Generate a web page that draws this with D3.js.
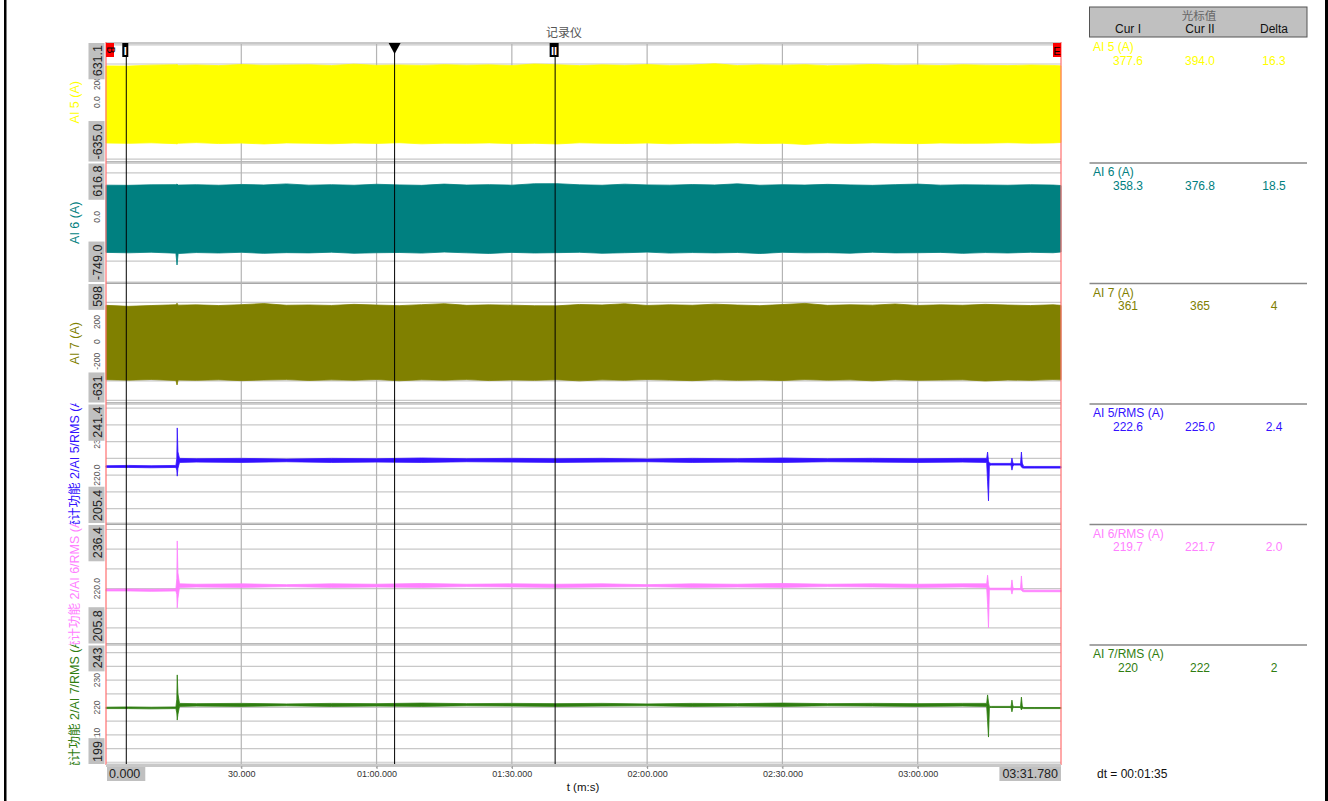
<!DOCTYPE html>
<html><head><meta charset="utf-8">
<script src="https://cdn.jsdelivr.net/npm/d3@7"></script>
<style>
body{margin:0;background:#fff;}
svg{display:block;font-family:"Liberation Sans",Arial,"Noto Sans CJK SC",sans-serif;}
</style></head><body><svg id="c" width="1328" height="801"></svg>
<script>
// ---------------- DATA ----------------
const chartTitle = "记录仪";
const timeDomain = [0, 211.78];
const xTickSeconds = [30, 60, 90, 120, 150, 180];
const xTickLabels = ["30.000", "01:00.000", "01:30.000", "02:00.000", "02:30.000", "03:00.000"];
const xStartLabel = "0.000";
const xEndLabel = "03:31.780";
const xAxisTitle = "t (m:s)";

const channelNames = ["AI 5 (A)", "AI 6 (A)", "AI 7 (A)",
  "统计功能 2/AI 5/RMS (A)", "统计功能 2/AI 6/RMS (A)", "统计功能 2/AI 7/RMS (A)"];
const tableNames = ["AI 5 (A)", "AI 6 (A)", "AI 7 (A)", "AI 5/RMS (A)", "AI 6/RMS (A)", "AI 7/RMS (A)"];
const channelColors = ["#ffff00", "#008080", "#808000", "#3311ff", "#ff80ff", "#2f7d10"];

const axisMax = [631.1, 616.8, 598, 241.4, 236.4, 243];
const axisMin = [-635.0, -749.0, -631, 205.4, 205.8, 199];
const axisMaxText = ["631.1", "616.8", "598", "241.4", "236.4", "243"];
const axisMinText = ["-635.0", "-749.0", "-631", "205.4", "205.8", "199"];
const axisTickValues = [[0, 200], [0], [-200, 0, 200], [220, 230], [220], [210, 220, 230]];
const axisTickText = [["0.0", "200"], ["0.0"], ["-200", "0", "200"], ["220.0", "230"], ["220.0"], ["210", "220", "230"]];
const yGridStep = [200, 250, 200, 5, 5, 5];

const tableHeader = "光标值";
const tableCols = ["Cur I", "Cur II", "Delta"];
const curIValues = ["377.6", "358.3", "361", "222.6", "219.7", "220"];
const curIIValues = ["394.0", "376.8", "365", "225.0", "221.7", "222"];
const deltaValues = ["16.3", "18.5", "4", "2.4", "2.0", "2"];
const dtText = "dt = 00:01:35";

const cursorTimes = [4.5, 99.6];   // cursor I, cursor II
const cursorLabels = ["I", "II"];
const markerTime = 64.0;            // triangle marker

// raw signals: envelope (max / min per time slot)
const rawTimes = [0, 5, 10, 15.5, 15.75, 16, 20, 25, 30, 35, 40, 45, 50, 55, 60, 65, 70, 75, 80, 85, 90, 95,
  100, 105, 110, 115, 120, 125, 130, 135, 140, 145, 150, 155, 160, 165, 170, 175, 180, 185, 190, 195,
  200, 205, 210, 211.78];
const ai5Hi = [380, 378, 388, 392, 395, 386, 390, 383, 395, 386, 389, 392, 384, 398, 386, 390, 385, 393, 387, 391, 384, 400,
  392, 383, 391, 386, 394, 385, 389, 403, 384, 391, 387, 393, 382, 388, 395, 386, 390, 384, 392, 387, 383, 389, 385, 381];
const ai5Lo = [-430, -434, -428, -437, -440, -433, -426, -436, -431, -440, -429, -433, -438, -430, -435, -427, -439, -432, -434, -429, -437, -433,
  -440, -428, -433, -436, -430, -438, -432, -434, -429, -436, -433, -445, -431, -435, -429, -433, -437, -430, -434, -432, -427, -433, -429, -425];
const ai6Hi = [360, 358, 364, 366, 372, 361, 365, 359, 368, 362, 374, 360, 365, 359, 370, 363, 358, 372, 361, 366, 360, 376,
  377, 364, 359, 371, 363, 360, 367, 362, 375, 359, 365, 361, 369, 363, 358, 366, 372, 360, 364, 362, 359, 365, 361, 356];
const ai6Lo = [-402, -407, -400, -411, -545, -415, -404, -409, -401, -413, -405, -408, -400, -412, -406, -403, -410, -398, -407, -414, -402, -409,
  -405, -401, -412, -406, -399, -410, -404, -408, -403, -415, -401, -407, -405, -411, -400, -408, -406, -402, -413, -404, -409, -401, -406, -398];
const ai7Hi = [370, 360, 368, 376, 392, 372, 375, 368, 377, 388, 371, 374, 369, 380, 373, 367, 377, 387, 370, 375, 372, 366,
  365, 379, 374, 386, 369, 376, 371, 382, 373, 367, 378, 390, 370, 376, 372, 384, 369, 375, 371, 380, 373, 368, 376, 370];
const ai7Lo = [-388, -393, -386, -396, -442, -392, -395, -389, -398, -391, -387, -396, -390, -394, -386, -399, -389, -393, -387, -397, -391, -395,
  -388, -400, -390, -394, -386, -392, -398, -389, -395, -391, -397, -387, -393, -390, -399, -388, -395, -392, -389, -401, -391, -395, -387, -390];

// RMS signals: envelope (max / min per time slot)
const rmsTimes = [0, 5, 10, 15.5, 15.7, 15.8, 15.95, 16.3, 20, 30, 40, 50, 60, 70, 80, 90, 100, 110, 120, 130, 140, 150,
  160, 170, 180, 190, 195.3, 195.5, 195.7, 195.9, 196.3, 200.7, 200.9, 201.1, 201.3, 201.5, 202.8, 203.0, 203.2, 203.5, 206, 211.78];
const rms5Hi = [222.8, 222.9, 222.8, 222.9, 225.0, 234.1, 227.0, 225.0, 224.9, 225.0, 224.8, 225.0, 224.9, 225.1, 224.9, 225.0, 224.9, 225.0, 224.8, 225.0, 224.9, 225.1,
  224.9, 225.0, 224.9, 225.0, 225.0, 226.9, 224.2, 223.6, 223.5, 223.5, 225.1, 223.7, 223.5, 223.4, 223.4, 226.9, 223.6, 222.6, 222.6, 222.6];
const rms5Lo = [222.3, 222.3, 222.2, 222.3, 221.5, 219.7, 222.0, 223.8, 223.9, 223.8, 224.0, 223.8, 223.9, 223.8, 224.0, 223.9, 223.8, 223.9, 224.0, 223.8, 223.9, 223.8,
  224.0, 223.9, 223.8, 223.9, 223.8, 218.0, 212.3, 222.9, 223.0, 223.0, 221.5, 222.6, 223.0, 223.0, 223.0, 222.4, 222.2, 222.1, 222.1, 222.1];
const rms6Hi = [219.8, 219.9, 219.8, 219.9, 222.5, 232.1, 224.0, 221.2, 221.1, 221.2, 221.0, 221.2, 221.1, 221.3, 221.1, 221.2, 221.1, 221.2, 221.0, 221.2, 221.1, 221.3,
  221.1, 221.2, 221.1, 221.2, 221.2, 223.4, 221.0, 220.1, 220.1, 220.1, 222.2, 220.3, 220.1, 220.0, 220.0, 223.2, 220.2, 219.6, 219.6, 219.6];
const rms6Lo = [219.4, 219.4, 219.3, 219.4, 218.5, 215.1, 217.5, 220.3, 220.4, 220.3, 220.5, 220.3, 220.4, 220.3, 220.5, 220.4, 220.3, 220.4, 220.5, 220.3, 220.4, 220.3,
  220.5, 220.4, 220.3, 220.4, 220.3, 216.0, 210.0, 219.7, 219.7, 219.7, 218.6, 219.6, 219.7, 219.7, 219.7, 219.6, 219.3, 219.2, 219.2, 219.2];
const rms7Hi = [220.1, 220.2, 220.1, 220.2, 223.0, 231.9, 225.0, 221.5, 221.4, 221.5, 221.3, 221.5, 221.4, 221.6, 221.4, 221.5, 221.4, 221.5, 221.3, 221.5, 221.4, 221.6,
  221.4, 221.5, 221.4, 221.5, 221.5, 224.6, 222.0, 220.4, 220.4, 220.4, 222.7, 220.6, 220.4, 220.3, 220.3, 223.8, 220.5, 220.0, 220.0, 220.0];
const rms7Lo = [219.6, 219.6, 219.5, 219.6, 218.0, 215.4, 217.5, 220.4, 220.5, 220.4, 220.6, 220.4, 220.5, 220.4, 220.6, 220.5, 220.4, 220.5, 220.6, 220.4, 220.5, 220.4,
  220.6, 220.5, 220.4, 220.5, 220.4, 215.0, 209.2, 220.0, 220.0, 220.0, 218.4, 219.9, 220.0, 220.0, 220.0, 219.1, 219.7, 219.6, 219.6, 219.6];

// ---------------- LAYOUT ----------------
const svg = d3.select("#c");
const plotLeft = 106, plotRight = 1061;
const plotTop = 42, panelH = 120.5, nPanels = 6;
const plotBottom = plotTop + panelH * nPanels;
const panelTop = i => plotTop + i * panelH;

const x = d3.scaleLinear().domain(timeDomain).range([plotLeft, plotRight]);
const yScales = axisMax.map((mx, i) => d3.scaleLinear().domain([axisMin[i], mx])
  .range([panelTop(i) + panelH, panelTop(i)]));

const series = [
  {times: rawTimes, hi: ai5Hi, lo: ai5Lo},
  {times: rawTimes, hi: ai6Hi, lo: ai6Lo},
  {times: rawTimes, hi: ai7Hi, lo: ai7Lo},
  {times: rmsTimes, hi: rms5Hi, lo: rms5Lo},
  {times: rmsTimes, hi: rms6Hi, lo: rms6Lo},
  {times: rmsTimes, hi: rms7Hi, lo: rms7Lo}
];

// outer black frame edges
svg.append("rect").attr("x", 4).attr("y", 0).attr("width", 2.5).attr("height", 801).attr("fill", "#000");
svg.append("rect").attr("x", 1325).attr("y", 0).attr("width", 3).attr("height", 801).attr("fill", "#000");

// title
svg.append("text").attr("x", 564).attr("y", 37).attr("text-anchor", "middle")
  .attr("font-family", "'Noto Sans CJK SC'").attr("font-size", 12).attr("fill", "#555").text(chartTitle);

const defs = svg.append("defs");

// panels
for (let i = 0; i < nPanels; i++) {
  const T = panelTop(i), B = T + panelH;
  const g = svg.append("g");
  const ys = yScales[i];
  const step = yGridStep[i];
  const gv = d3.range(Math.ceil(axisMin[i] / step) * step, axisMax[i], step);
  g.selectAll("line.grid").data(gv).join("line").attr("class", "grid")
    .attr("x1", plotLeft).attr("x2", plotRight).attr("y1", d => ys(d)).attr("y2", d => ys(d))
    .attr("stroke", "#c8c8c8").attr("stroke-width", 1.2);
  g.append("line").attr("x1", plotLeft).attr("x2", plotRight).attr("y1", T + 0.5).attr("y2", T + 0.5)
    .attr("stroke", "#a8a8a8").attr("stroke-width", 1);
  g.append("line").attr("x1", plotLeft).attr("x2", plotRight).attr("y1", B - 0.8).attr("y2", B - 0.8)
    .attr("stroke", "#a8a8a8").attr("stroke-width", 1);
  defs.append("clipPath").attr("id", "clipL" + i).append("rect")
    .attr("x", 55).attr("y", T).attr("width", 30).attr("height", panelH);
}

// vertical grid lines
svg.append("g").selectAll("line").data(xTickSeconds).join("line")
  .attr("x1", d => x(d)).attr("x2", d => x(d)).attr("y1", plotTop).attr("y2", plotBottom + 3)
  .attr("stroke", "#b4b4b4").attr("stroke-width", 1.2);

// top frame line
svg.append("line").attr("x1", plotLeft).attr("x2", plotRight).attr("y1", plotTop + 1).attr("y2", plotTop + 1)
  .attr("stroke", "#c8c8c8").attr("stroke-width", 2);

// signal envelopes
series.forEach((s, i) => {
  const ys = yScales[i];
  const pts = s.times.map((t, k) => ({t, hi: s.hi[k], lo: s.lo[k]}));
  const area = d3.area().x(d => x(d.t)).y0(d => ys(d.lo)).y1(d => ys(d.hi));
  svg.append("path").datum(pts).attr("d", area)
    .attr("fill", channelColors[i]).attr("stroke", channelColors[i])
    .attr("stroke-width", 0.8).attr("stroke-linejoin", "round");
});

// left axis: labels in grey boxes, tick labels, channel names
for (let i = 0; i < nPanels; i++) {
  const T = panelTop(i), B = T + panelH;
  const ys = yScales[i];
  const cy = T + panelH / 2;
  svg.append("g").attr("clip-path", `url(#clipL${i})`)
    .append("text").attr("transform", `translate(79,${cy}) rotate(-90)`)
    .attr("text-anchor", "middle").attr("font-size", 12.5).attr("fill", channelColors[i])
    .text(channelNames[i]);
  axisTickValues[i].forEach((v, k) => {
    svg.append("text").attr("transform", `translate(99.5,${ys(v)}) rotate(-90)`)
      .attr("text-anchor", "middle").attr("font-size", 8.5).attr("fill", "#555")
      .text(axisTickText[i][k]);
  });
  const maxT = svg.append("g");
  const tMax = maxT.append("text").attr("transform", `translate(101.5,${T + 3}) rotate(-90)`)
    .attr("text-anchor", "end").attr("font-size", 12.5).attr("fill", "#222").text(axisMaxText[i]);
  const lenMax = tMax.node().getComputedTextLength();
  maxT.insert("rect", "text").attr("x", 88.5).attr("y", T + 1).attr("width", 16).attr("height", lenMax + 5)
    .attr("fill", "#c0c0c0");
  const minT = svg.append("g");
  const tMin = minT.append("text").attr("transform", `translate(101.5,${B - 3}) rotate(-90)`)
    .attr("text-anchor", "start").attr("font-size", 12.5).attr("fill", "#222").text(axisMinText[i]);
  const lenMin = tMin.node().getComputedTextLength();
  minT.insert("rect", "text").attr("x", 88.5).attr("y", B - lenMin - 6).attr("width", 16).attr("height", lenMin + 5)
    .attr("fill", "#c0c0c0");
}

// boundary lines (begin / end)
[timeDomain[0], timeDomain[1]].forEach(t => {
  svg.append("line").attr("x1", x(t)).attr("x2", x(t)).attr("y1", plotTop).attr("y2", plotBottom)
    .attr("stroke", "#ff7070").attr("stroke-width", 1.2);
});

// cursors
cursorTimes.forEach((t, k) => {
  const cx = x(t);
  svg.append("line").attr("x1", cx).attr("x2", cx).attr("y1", plotTop + 1).attr("y2", plotBottom)
    .attr("stroke", "#000").attr("stroke-width", 1);
  const w = k === 0 ? 6 : 9;
  svg.append("rect").attr("x", cx - w / 2 - 1).attr("y", plotTop + 1).attr("width", w).attr("height", 14)
    .attr("fill", "#000");
  svg.append("text").attr("x", cx - 1).attr("y", plotTop + 12.5).attr("text-anchor", "middle")
    .attr("font-size", 11).attr("font-weight", "bold").attr("fill", "#fff").text(cursorLabels[k]);
});
{
  const mx = x(markerTime);
  svg.append("line").attr("x1", mx).attr("x2", mx).attr("y1", plotTop + 1).attr("y2", plotBottom)
    .attr("stroke", "#000").attr("stroke-width", 1);
  svg.append("path").attr("d", `M${mx - 6},${plotTop + 1}L${mx + 6},${plotTop + 1}L${mx},${plotTop + 12}Z`)
    .attr("fill", "#000");
}
svg.append("rect").attr("x", x(timeDomain[0])).attr("y", plotTop + 1).attr("width", 8).attr("height", 14).attr("fill", "#ff0000");
svg.append("text").attr("transform", `translate(${x(timeDomain[0]) + 4},${plotTop + 8}) rotate(90)`)
  .attr("text-anchor", "middle").attr("dy", "0.35em").attr("font-size", 10).attr("fill", "#000").text("B");
svg.append("rect").attr("x", x(timeDomain[1]) - 8).attr("y", plotTop + 1).attr("width", 8).attr("height", 14).attr("fill", "#ff0000");
svg.append("text").attr("x", x(timeDomain[1]) - 4).attr("y", plotTop + 12.5).attr("text-anchor", "middle")
  .attr("font-size", 11).attr("fill", "#000").text("E");

// bottom axis
svg.append("rect").attr("x", plotLeft).attr("y", plotBottom - 1).attr("width", plotRight - plotLeft).attr("height", 3)
  .attr("fill", "#c8c8c8");
const xAxis = d3.axisBottom(x).tickValues(xTickSeconds).tickFormat((d, k) => xTickLabels[k]).tickSize(3);
const ax = svg.append("g").attr("transform", `translate(0,${plotBottom + 1})`).call(xAxis);
ax.select(".domain").remove();
ax.selectAll("line").attr("stroke", "#999");
ax.selectAll("text").attr("font-size", 9).attr("fill", "#333").attr("font-family", "Liberation Sans").attr("dy", "0.6em");

{
  const t0 = svg.append("text").attr("x", plotLeft + 3).attr("y", plotBottom + 13).attr("font-size", 12.5).attr("fill", "#222").text(xStartLabel);
  const w0 = t0.node().getComputedTextLength();
  svg.insert("rect", "text").attr("x", plotLeft + 1).attr("y", plotBottom + 1).attr("width", w0 + 7).attr("height", 15).attr("fill", "#c0c0c0");
  const t1 = svg.append("text").attr("x", plotRight - 3).attr("y", plotBottom + 13).attr("text-anchor", "end").attr("font-size", 12.5).attr("fill", "#222").text(xEndLabel);
  const w1 = t1.node().getComputedTextLength();
  svg.insert("rect", "text").attr("x", plotRight - w1 - 6).attr("y", plotBottom + 1).attr("width", w1 + 6).attr("height", 15).attr("fill", "#c0c0c0");
}
svg.append("text").attr("x", 583).attr("y", 791).attr("text-anchor", "middle").attr("font-size", 11.5).attr("fill", "#111").text(xAxisTitle);

// right table
const tX0 = 1089.5, tX1 = 1307;
const colX = [1128, 1200, 1274];
svg.append("rect").attr("x", tX0).attr("y", 7).attr("width", tX1 - tX0).attr("height", 30)
  .attr("fill", "#c0c0c0").attr("stroke", "#555").attr("stroke-width", 1);
svg.append("text").attr("x", 1199).attr("y", 20).attr("text-anchor", "middle")
  .attr("font-family", "'Noto Sans CJK SC'").attr("font-size", 11.5).attr("fill", "#666").text(tableHeader);
tableCols.forEach((c, k) => svg.append("text").attr("x", colX[k]).attr("y", 33).attr("text-anchor", "middle")
  .attr("font-size", 12).attr("fill", "#111").text(c));
for (let i = 0; i < nPanels; i++) {
  const sy = i === 0 ? 37 : panelTop(i);
  if (i > 0) svg.append("line").attr("x1", tX0).attr("x2", tX1).attr("y1", sy + 0.5).attr("y2", sy + 0.5)
    .attr("stroke", "#888").attr("stroke-width", 1.5);
  const nameY = i === 0 ? 51 : sy + 13.5;
  svg.append("text").attr("x", 1093).attr("y", nameY).attr("font-size", 12).attr("fill", channelColors[i]).text(tableNames[i]);
  [curIValues[i], curIIValues[i], deltaValues[i]].forEach((v, k) => {
    svg.append("text").attr("x", colX[k]).attr("y", nameY + 13.5).attr("text-anchor", "middle")
      .attr("font-size", 12).attr("fill", channelColors[i]).text(v);
  });
}
svg.append("text").attr("x", 1097).attr("y", 778).attr("font-size", 12).attr("fill", "#111").text(dtText);
</script></body></html>
